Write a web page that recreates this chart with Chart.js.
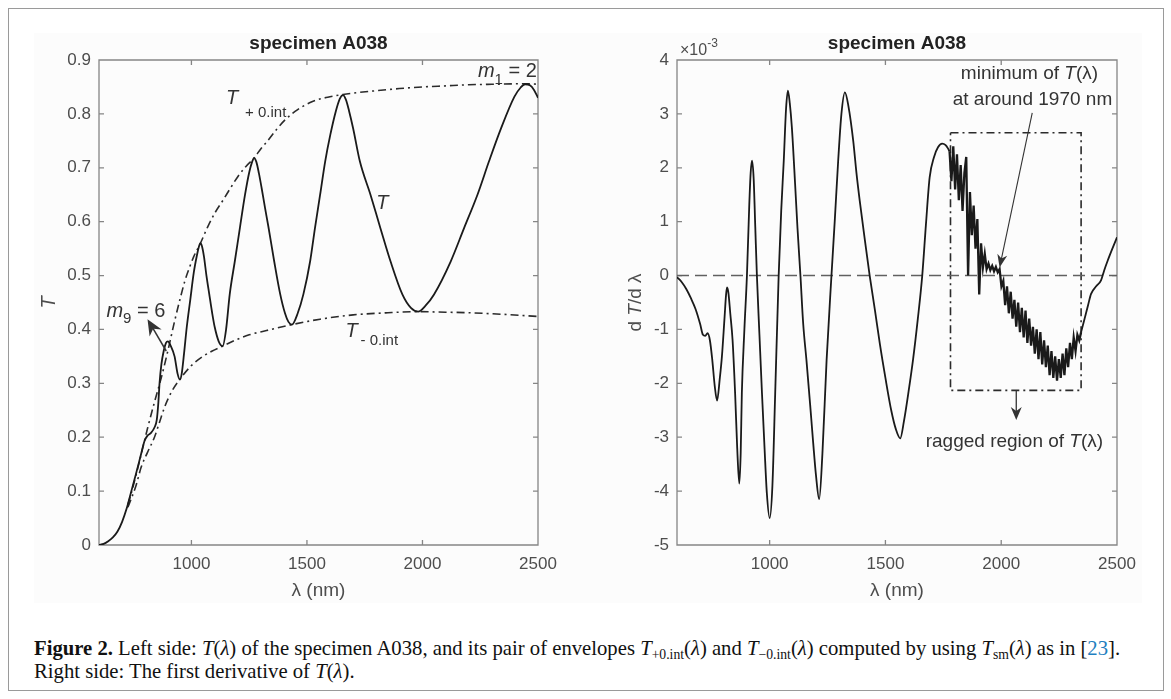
<!DOCTYPE html>
<html><head><meta charset="utf-8">
<script src="https://cdn.jsdelivr.net/npm/chart.js@4.4.1/dist/chart.umd.min.js"></script>
<style>
html,body{margin:0;padding:0;background:#fff;}
body{width:1171px;height:699px;position:relative;overflow:hidden;}
#frame{position:absolute;left:8px;top:8px;width:1156px;height:683px;border:1px solid #9a9a9a;box-sizing:border-box;}
#figbg{position:absolute;left:34px;top:33px;width:1108px;height:570px;background:#fcfcfc;}
canvas{position:absolute;}
#c1{left:20px;top:20px;}
#c2{left:590px;top:20px;}
.cap{position:absolute;left:34px;font-family:"Liberation Serif","Times New Roman",serif;font-size:20.7px;color:#111;white-space:nowrap;line-height:22px;}
.cap sub{font-size:0.66em;vertical-align:-0.3em;line-height:0;}
.cap .ref{color:#1f7fc0;}
</style></head>
<body>
<div id="frame"></div>
<div id="figbg"></div>
<canvas id="c1" width="560" height="590"></canvas>
<canvas id="c2" width="560" height="590"></canvas>
<div class="cap" style="top:637px;"><b>Figure 2.</b> Left side: <i>T</i>(<i>λ</i>) of the specimen A038, and its pair of envelopes <i>T</i><sub>+0.int</sub>(<i>λ</i>) and <i>T</i><sub>−0.int</sub>(<i>λ</i>) computed by using <i>T</i><sub>sm</sub>(<i>λ</i>) as in [<span class="ref">23</span>].</div>
<div class="cap" style="top:660px;">Right side: The first derivative of <i>T</i>(<i>λ</i>).</div>
<script>
// ---------- DATA ----------
// Left panel: transmission T(lambda)
const lambdaT = [600,620,640,660,680,700,720,740,760,780,797,810,825,840,850,857,862,870,880,890,898,910,927,940,950,958,968,980,995,1010,1025,1032,1039,1046,1054,1065,1077,1090,1101,1118,1135,1150,1166,1188,1210,1232,1251,1262,1271,1281,1292,1304,1318,1333,1358,1384,1405,1420,1435,1460,1485,1514,1535,1557,1579,1601,1625,1642,1656,1669,1682,1700,1729,1775,1818,1862,1913,1950,1981,2015,2050,2122,2180,2238,2288,2340,2398,2425,2444,2465,2482,2500];
const transT = [0.000,0.002,0.007,0.014,0.025,0.043,0.068,0.100,0.132,0.165,0.193,0.203,0.208,0.218,0.232,0.265,0.300,0.335,0.360,0.375,0.378,0.370,0.350,0.318,0.307,0.318,0.355,0.405,0.455,0.505,0.540,0.553,0.560,0.554,0.536,0.500,0.466,0.430,0.404,0.378,0.369,0.400,0.466,0.527,0.589,0.650,0.693,0.710,0.718,0.711,0.690,0.662,0.627,0.591,0.527,0.466,0.430,0.414,0.409,0.430,0.466,0.527,0.589,0.650,0.712,0.761,0.805,0.828,0.835,0.826,0.806,0.773,0.712,0.650,0.588,0.526,0.465,0.440,0.433,0.445,0.465,0.526,0.588,0.650,0.712,0.773,0.832,0.849,0.855,0.853,0.845,0.830];
// Upper envelope T+0.int
const lambdaUp = [725,739,775,811,840,870,900,927,950,971,990,1010,1039,1070,1100,1137,1170,1200,1235,1271,1300,1330,1370,1408,1460,1524,1590,1656,1730,1800,1900,2000,2100,2200,2300,2444,2500];
const envUp = [0.075,0.095,0.155,0.218,0.265,0.311,0.364,0.415,0.455,0.489,0.513,0.535,0.560,0.590,0.615,0.640,0.663,0.683,0.702,0.718,0.735,0.750,0.772,0.790,0.808,0.823,0.831,0.836,0.840,0.843,0.847,0.850,0.852,0.854,0.855,0.856,0.855];
// Lower envelope T-0.int
const lambdaLow = [725,760,783,810,840,862,884,915,949,1000,1050,1090,1135,1200,1250,1325,1435,1557,1700,1850,1981,2100,2200,2350,2500];
const envLow = [0.070,0.110,0.145,0.172,0.200,0.228,0.256,0.285,0.307,0.333,0.350,0.360,0.369,0.382,0.390,0.398,0.409,0.419,0.427,0.431,0.433,0.432,0.431,0.428,0.424];

// Right panel: dT/dlambda (in units of 1e-3)
const lambdaD1 = [600,620,640,660,680,700,712,722,732,742,752,763,773,785,794,805,812,816,822,830,840,851,860,869,875,880,891,902,912,918,924,931,938,945,956,967,978,988,1000,1012,1024,1039,1050,1061,1071,1079,1087,1096,1110,1120,1133,1145,1159,1175,1188,1200,1214,1228,1246,1267,1281,1296,1310,1325,1340,1361,1375,1389,1410,1432,1455,1476,1500,1525,1545,1564,1580,1600,1619,1640,1659,1675,1691,1710,1727,1745,1760,1770,1777];
const derivD1 = [-0.03,-0.12,-0.25,-0.42,-0.62,-0.9,-1.1,-1.12,-1.07,-1.2,-1.55,-2.05,-2.32,-1.9,-1.5,-0.8,-0.35,-0.22,-0.32,-0.7,-1.2,-2.19,-3.2,-3.86,-3.3,-2.19,-1.0,0.0,1.3,1.9,2.13,1.8,0.9,0.0,-1.1,-2.19,-3.2,-4.04,-4.5,-3.9,-2.19,0.0,1.2,2.13,3.1,3.43,3.2,2.75,1.7,0.9,0.0,-0.9,-1.57,-2.4,-3.1,-3.7,-4.15,-3.3,-1.57,0.0,1.0,2.13,3.0,3.4,3.15,2.5,1.9,1.39,0.7,0.0,-0.65,-1.27,-1.9,-2.5,-2.85,-3.02,-2.7,-2.15,-1.57,-0.8,0.0,0.95,1.82,2.2,2.38,2.45,2.42,2.36,2.30];
const lambdaRag = [1777,1785,1793,1801,1809,1817,1825,1833,1841,1849,1857,1865,1873,1881,1889,1897,1905,1913,1921,1929,1937,1945,1953,1961,1969,1977,1985,1993,2001,2009,2017,2025,2033,2041,2049,2057,2065,2073,2081,2089,2097,2105,2113,2121,2129,2137,2145,2153,2161,2169,2177,2185,2193,2201,2209,2217,2225,2233,2241,2249,2257,2265,2273,2281,2289,2297,2305,2313,2321,2329,2337,2345];
const derivRag = [2.30,1.75,2.40,1.60,2.25,1.40,2.05,1.20,1.90,2.20,0.00,1.55,0.75,1.30,0.50,1.05,-0.35,0.60,0.15,0.40,0.12,0.22,0.10,0.18,0.08,0.16,0.06,0.12,-0.20,-0.10,-0.55,-0.20,-0.70,-0.30,-0.80,-0.45,-0.95,-0.50,-1.05,-0.60,-1.15,-0.65,-1.25,-0.80,-1.30,-0.95,-1.45,-1.00,-1.55,-1.05,-1.65,-1.20,-1.70,-1.30,-1.85,-1.40,-1.90,-1.50,-1.95,-1.55,-1.90,-1.45,-1.85,-1.35,-1.70,-1.25,-1.55,-1.15,-1.40,-1.10,-1.20,-1.05];
const lambdaD2 = [2345,2360,2375,2388,2410,2431,2445,2460,2480,2500];
const derivD2 = [-1.05,-0.8,-0.55,-0.34,-0.2,-0.09,0.1,0.28,0.5,0.71];
// zero reference line and ragged-region box (data coordinates)
const zeroLambda = [600,2500];
const zeroVal = [0,0];
const boxLambda = [1781,2345,2345,1781,1781];
const boxVal = [2.65,2.65,-2.13,-2.13,2.65];

// ticks
const xTickVals = [1000,1500,2000,2500];
const xTickLabels = ['1000','1500','2000','2500'];
const tTickVals = [0,0.1,0.2,0.3,0.4,0.5,0.6,0.7,0.8,0.9];
const tTickLabels = ['0','0.1','0.2','0.3','0.4','0.5','0.6','0.7','0.8','0.9'];
const dTickVals = [-5,-4,-3,-2,-1,0,1,2,3,4];
const dTickLabels = ['-5','-4','-3','-2','-1','0','1','2','3','4'];

// ---------- STYLE ----------
const FONT = '"Liberation Sans", Arial, Helvetica, sans-serif';
const AXIS_COLOR = '#858585';
const TICK_COLOR = '#4d4d4d';
const TEXT_COLOR = '#333333';
const LINE_COLOR = '#1a1a1a';
const DASHDOT = [8,4,2,4];

const pts = (xs, ys) => xs.map((v,i)=>({x:v, y:ys[i]}));

function drawRich(ctx, parts, x, y, align){
  let w = 0;
  parts.forEach(p=>{ctx.font=p.f; p.w=ctx.measureText(p.t).width; w+=p.w;});
  let cx = align==='center' ? x - w/2 : x;
  ctx.textAlign='left'; ctx.textBaseline='middle';
  parts.forEach(p=>{ctx.font=p.f; ctx.fillText(p.t, cx, y+(p.dy||0)); cx+=p.w;});
}
function arrow(ctx, x1,y1,x2,y2, len, half){
  const a = Math.atan2(y2-y1, x2-x1);
  ctx.beginPath(); ctx.moveTo(x1,y1); ctx.lineTo(x2-Math.cos(a)*len*0.6,y2-Math.sin(a)*len*0.6); ctx.stroke();
  ctx.beginPath();
  ctx.moveTo(x2,y2);
  ctx.lineTo(x2-len*Math.cos(a)+half*Math.sin(a), y2-len*Math.sin(a)-half*Math.cos(a));
  ctx.lineTo(x2-len*0.7*Math.cos(a), y2-len*0.7*Math.sin(a));
  ctx.lineTo(x2-len*Math.cos(a)-half*Math.sin(a), y2-len*Math.sin(a)+half*Math.cos(a));
  ctx.closePath(); ctx.fill();
}

const frameTicks = {
  id:'frameTicks',
  beforeDatasetsDraw(chart){
    const {ctx, chartArea:a, scales} = chart;
    const xs = scales.x, ys = scales.y, L = 5;
    ctx.save();
    ctx.strokeStyle = AXIS_COLOR; ctx.lineWidth = 1.3;
    ctx.beginPath();
    ctx.rect(a.left, a.top, a.right-a.left, a.bottom-a.top);
    xs.ticks.forEach(t=>{const p=xs.getPixelForValue(t.value); ctx.moveTo(p,a.bottom); ctx.lineTo(p,a.bottom-L); ctx.moveTo(p,a.top); ctx.lineTo(p,a.top+L);});
    ys.ticks.forEach(t=>{const p=ys.getPixelForValue(t.value); ctx.moveTo(a.left,p); ctx.lineTo(a.left+L,p); ctx.moveTo(a.right,p); ctx.lineTo(a.right-L,p);});
    ctx.stroke();
    ctx.restore();
  }
};

const annotLeft = {
  id:'annotLeft',
  afterDatasetsDraw(chart){
    const {ctx, scales:{x,y}} = chart;
    const P = (l,v)=>[x.getPixelForValue(l), y.getPixelForValue(v)];
    const it = 'italic 20px '+FONT, nm = '20px '+FONT, sb = '15px '+FONT;
    ctx.save();
    ctx.fillStyle = TEXT_COLOR; ctx.strokeStyle = TEXT_COLOR;
    let p = P(1150,0.828);
    drawRich(ctx,[{t:'T',f:it}],p[0],p[1],'left');
    p = P(1232,0.801);
    drawRich(ctx,[{t:'+ 0.int',f:sb}],p[0],p[1],'left');
    p = P(1826,0.634);
    drawRich(ctx,[{t:'T',f:it}],p[0],p[1],'center');
    p = P(1667,0.397);
    drawRich(ctx,[{t:'T',f:it}],p[0],p[1],'left');
    p = P(1732,0.378);
    drawRich(ctx,[{t:'- 0.int',f:sb}],p[0],p[1],'left');
    p = P(2240,0.878);
    drawRich(ctx,[{t:'m',f:it},{t:'1',f:sb,dy:8},{t:' = 2',f:nm}],p[0],p[1],'left');
    p = P(632,0.434);
    drawRich(ctx,[{t:'m',f:it},{t:'9',f:sb,dy:8},{t:' = 6',f:nm}],p[0],p[1],'left');
    const t0 = P(891,0.36), t1 = P(810,0.419);
    ctx.lineWidth = 1.5;
    arrow(ctx, t0[0],t0[1],t1[0],t1[1], 16, 7);
    ctx.restore();
  }
};

const annotRight = {
  id:'annotRight',
  afterDatasetsDraw(chart){
    const {ctx, chartArea:a, scales:{x,y}} = chart;
    const P = (l,v)=>[x.getPixelForValue(l), y.getPixelForValue(v)];
    const it = 'italic 19px '+FONT, nm = '19px '+FONT;
    ctx.save();
    ctx.fillStyle = TEXT_COLOR; ctx.strokeStyle = TEXT_COLOR;
    let p = P(2122,3.74);
    drawRich(ctx,[{t:'minimum of ',f:nm},{t:'T',f:it},{t:'(λ)',f:nm}],p[0],p[1],'center');
    p = P(2135,3.26);
    drawRich(ctx,[{t:'at around 1970 nm',f:nm}],p[0],p[1],'center');
    p = P(2057,-3.09);
    drawRich(ctx,[{t:'ragged region of ',f:nm},{t:'T',f:it},{t:'(λ)',f:nm}],p[0],p[1],'center');
    ctx.lineWidth = 1.1;
    let s0 = P(2134,3.02), s1 = P(1993,0.15);
    arrow(ctx, s0[0],s0[1],s1[0],s1[1], 13, 5);
    ctx.lineWidth = 1.3;
    s0 = P(2065,-2.13); s1 = P(2065,-2.68);
    arrow(ctx, s0[0],s0[1],s1[0],s1[1], 13, 5.5);
    ctx.fillStyle = TICK_COLOR;
    drawRich(ctx,[{t:'×',f:'16px '+FONT},{t:'10',f:'16px '+FONT},{t:'-3',f:'12px '+FONT,dy:-7}],a.left+3,a.top-9,'left');
    ctx.save();
    ctx.translate(a.left-41,(a.top+a.bottom)/2);
    ctx.rotate(-Math.PI/2);
    drawRich(ctx,[{t:'d ',f:nm},{t:'T',f:it},{t:'/d λ',f:nm}],0,0,'center');
    ctx.restore();
    ctx.restore();
  }
};

function baseOptions(yMin,yMax,yVals,yLabels,yWidth,padRight,yTitle){
  return {
    responsive:false, animation:false, devicePixelRatio:1,
    layout:{padding:{left:0,right:padRight,top:0,bottom:0}},
    plugins:{
      legend:{display:false}, tooltip:{enabled:false},
      title:{display:true,text:'specimen A038',fullSize:false,color:'#222',font:{family:FONT,size:19,weight:'bold'},padding:{top:12,bottom:5.2}}
    },
    scales:{
      x:{type:'linear',min:600,max:2500,
        afterBuildTicks(s){s.ticks=xTickVals.map(v=>({value:v}));},
        afterFit(s){s.height=65;},
        ticks:{callback:(v,i)=>xTickLabels[i],color:TICK_COLOR,font:{family:FONT,size:17},padding:9,maxRotation:0,autoSkip:false},
        grid:{display:false,drawTicks:false}, border:{display:false},
        title:{display:true,text:'λ (nm)',color:TICK_COLOR,font:{family:FONT,size:19},padding:{top:0,bottom:8}}
      },
      y:{type:'linear',min:yMin,max:yMax,
        afterBuildTicks(s){s.ticks=yVals.map(v=>({value:v}));},
        afterFit(s){s.width=yWidth;},
        ticks:{callback:(v,i)=>yLabels[i],color:TICK_COLOR,font:{family:FONT,size:17},padding:8,autoSkip:false},
        grid:{display:false,drawTicks:false}, border:{display:false},
        title:yTitle
      }
    }
  };
}

new Chart(document.getElementById('c1'),{
  type:'line',
  data:{datasets:[
    {label:'T',data:pts(lambdaT,transT),borderColor:LINE_COLOR,borderWidth:1.8,pointRadius:0,cubicInterpolationMode:'monotone',fill:false},
    {label:'T+0.int',data:pts(lambdaUp,envUp),borderColor:'#2b2b2b',borderWidth:1.6,borderDash:DASHDOT,pointRadius:0,cubicInterpolationMode:'monotone',fill:false},
    {label:'T-0.int',data:pts(lambdaLow,envLow),borderColor:'#2b2b2b',borderWidth:1.6,borderDash:DASHDOT,pointRadius:0,cubicInterpolationMode:'monotone',fill:false}
  ]},
  options:baseOptions(0,0.9,tTickVals,tTickLabels,79,42,{display:true,text:'T',color:TICK_COLOR,font:{family:FONT,size:20,style:'italic'},padding:{top:17}}),
  plugins:[frameTicks,annotLeft]
});

new Chart(document.getElementById('c2'),{
  type:'line',
  data:{datasets:[
    {label:'dT/dλ',data:pts(lambdaD1,derivD1),borderColor:LINE_COLOR,borderWidth:1.8,pointRadius:0,cubicInterpolationMode:'monotone',fill:false},
    {label:'dT/dλ ragged',data:pts(lambdaRag,derivRag),borderColor:LINE_COLOR,borderWidth:2.3,pointRadius:0,tension:0,fill:false},
    {label:'dT/dλ tail',data:pts(lambdaD2,derivD2),borderColor:LINE_COLOR,borderWidth:1.8,pointRadius:0,cubicInterpolationMode:'monotone',fill:false},
    {label:'zero',data:pts(zeroLambda,zeroVal),borderColor:'#606060',borderWidth:1.5,borderDash:[12,6],pointRadius:0,tension:0,fill:false},
    {label:'ragged box',data:pts(boxLambda,boxVal),borderColor:'#2b2b2b',borderWidth:1.6,borderDash:DASHDOT,pointRadius:0,tension:0,fill:false}
  ]},
  options:baseOptions(-5,4,dTickVals,dTickLabels,87,33,{display:false}),
  plugins:[frameTicks,annotRight]
});
</script>
</body></html>
